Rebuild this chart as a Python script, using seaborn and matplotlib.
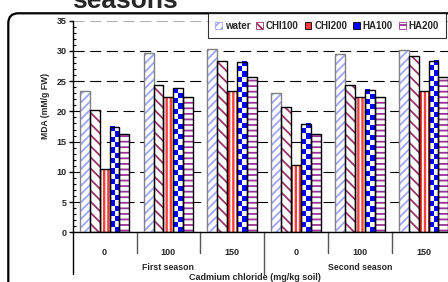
import numpy as np
import pandas as pd
import matplotlib
matplotlib.use('Agg')
import matplotlib.pyplot as plt
import seaborn as sns
from matplotlib.patches import Rectangle, Patch, FancyBboxPatch
from matplotlib.colors import ListedColormap

# data
groups = ['S1-0', 'S1-100', 'S1-150', 'S2-0', 'S2-100', 'S2-150']
dose_labels = ['0', '100', '150', '0', '100', '150']
seasons = ['First season', 'Second season']
treatments = ['water', 'CHI100', 'CHI200', 'HA100', 'HA200']
water = [23.3, 29.7, 30.3, 23.1, 29.5, 30.2]
chi100 = [20.3, 24.3, 28.4, 20.7, 24.3, 29.1]
chi200 = [10.5, 22.3, 23.3, 11.2, 22.3, 23.3]
ha100 = [17.4, 23.8, 28.2, 17.9, 23.5, 28.4]
ha200 = [16.3, 22.3, 25.7, 16.3, 22.4, 25.7]

series = [water, chi100, chi200, ha100, ha200]
rows = []
for t, vals in zip(treatments, series):
    for g, v in zip(groups, vals):
        rows.append({'group': g, 'trt': t, 'mda': v})
df = pd.DataFrame(rows)

# hatch styles: (face, hatch colour, hatch, outline)
styles = {
    'water': ('white', '#9ea6f7', '////', '#808080'),
    'CHI100': ('white', '#993366', '\\\\\\', 'black'),
    'CHI200': ('#ff3b3b', 'white', '||||', 'black'),
    'HA100': ('white', '#0000ff', '', 'black'),
    'HA200': ('white', '#993399', '---', 'black'),
}

sns.set_theme(style='white')
plt.rcParams['font.family'] = ['Liberation Sans', 'DejaVu Sans']
plt.rcParams['font.weight'] = 'bold'
plt.rcParams['hatch.linewidth'] = 1.3

fig = plt.figure(figsize=(4.48, 2.82), dpi=100)
ax = fig.add_axes([72.7 / 448, 1 - 232.3 / 282, (455.5 - 72.7) / 448, (232.3 - 20.7) / 282])

sns.barplot(data=df, x='group', y='mda', hue='trt', order=groups, hue_order=treatments,
            width=0.775, saturation=1, palette=['white'] * 5, legend=False, ax=ax, zorder=2)

cmap = ListedColormap(['white', '#0000ff'])
for trt, cont in zip(treatments, ax.containers):
    face, hc, hatch, edge = styles[trt]
    for bar in cont:
        bar.set_facecolor(face)
        bar.set_edgecolor(hc)
        bar.set_linewidth(0)
        bar.set_hatch(hatch)
        x0, w, h = bar.get_x(), bar.get_width(), bar.get_height()
        if trt == 'HA100':
            nrow = max(1, int(round(h / 0.85)))
            chk = (np.add.outer(np.arange(nrow), np.arange(2)) % 2)
            ax.imshow(chk, extent=[x0, x0 + w, 0, h], cmap=cmap, aspect='auto',
                      interpolation='nearest', zorder=2.5, origin='lower')
        ax.add_patch(Rectangle((x0, 0), w, h, fill=False, edgecolor=edge, lw=1.0, zorder=3))

ax.set_xlim(-0.5, len(groups) - 0.5)
ax.set_ylim(0, 35)
ax.set_yticks(np.arange(0, 36, 5))
ax.set_yticks(np.arange(0, 36, 1), minor=True)
ax.tick_params(axis='y', which='major', direction='out', length=3, width=1, color='black',
               labelsize=6.5, pad=1.5, left=True)
ax.tick_params(axis='y', which='minor', direction='in', length=2, width=0.8, color='black', left=True)
ax.set_xticks(range(len(groups)))
ax.set_xticklabels(dose_labels, fontsize=6.5, fontweight='bold')
ax.tick_params(axis='x', length=0, pad=11)
ax.set_xlabel('')
ax.set_ylabel('')

ax.set_axisbelow(True)
ax.yaxis.grid(True, color='black', linewidth=0.8, linestyle=(0, (10, 5)))
ax.get_ygridlines()[-1].set_color('#b0b0b0')
ax.xaxis.grid(False)
for s in ['top', 'right']:
    ax.spines[s].set_visible(False)
for s in ['left', 'bottom']:
    ax.spines[s].set_color('black')
    ax.spines[s].set_linewidth(1)

# multi-level category separators
tr = ax.get_xaxis_transform()
for i in range(len(groups) - 1):
    xb = i + 0.5
    depth = -0.195 if i == 2 else -0.1
    ax.plot([xb, xb], [0, depth], transform=tr, color='#555555', lw=1, clip_on=False)
ax.plot([-0.5, -0.5], [0, -0.195], transform=tr, color='black', lw=1, clip_on=False)
for k, sname in enumerate(seasons):
    ax.text(np.mean(range(3 * k, 3 * k + 3)), -0.164, sname, transform=tr, ha='center',
            va='center', fontsize=6.3, fontweight='bold')
fig.text(255 / 448, 1 - 278 / 282, 'Cadmium chloride (mg/kg soil)', ha='center', va='center',
         fontsize=6.5, fontweight='bold')
fig.text(45 / 448, 1 - 106 / 282, 'MDA (mM/g FW)', ha='center', va='center', rotation=90,
         fontsize=6.2, fontweight='bold')

# title is cropped at the top in the reference, only its last word shows
fig.text(124.5 / 448, 1 - 7.5 / 282, 'seasons', ha='center', va='baseline', fontsize=19,
         fontweight='bold')

frame = FancyBboxPatch((0.083, -1.0), 5.0, 2.687 + 1.0, boxstyle='round,pad=0,rounding_size=0.1',
                       transform=fig.dpi_scale_trans, fill=False, edgecolor='black', lw=1.6,
                       clip_on=False, zorder=5)
fig.patches.append(frame)

handles = []
for trt in treatments:
    face, hc, hatch, edge = styles[trt]
    if trt == 'HA100':
        handles.append(Patch(facecolor='#0000ff', edgecolor='black', lw=0.6))
    elif trt == 'CHI200':
        handles.append(Patch(facecolor=face, edgecolor='black', lw=0.6))
    else:
        handles.append(Patch(facecolor=face, edgecolor=hc, hatch=hatch.replace('\\\\\\', '\\\\'), lw=0.6))
leg = fig.legend(handles, treatments, loc='upper right', bbox_to_anchor=(446 / 448, 1 - 13.3 / 282),
                 ncol=5, prop={'size': 7, 'weight': 'bold'}, frameon=True, fancybox=False,
                 edgecolor='black', borderpad=0.75, handlelength=0.7, handleheight=0.7,
                 handletextpad=0.3, columnspacing=0.6, borderaxespad=0)
leg.get_frame().set_linewidth(0.8)
leg.set_zorder(6)

fig.savefig('out.png', dpi=100)
